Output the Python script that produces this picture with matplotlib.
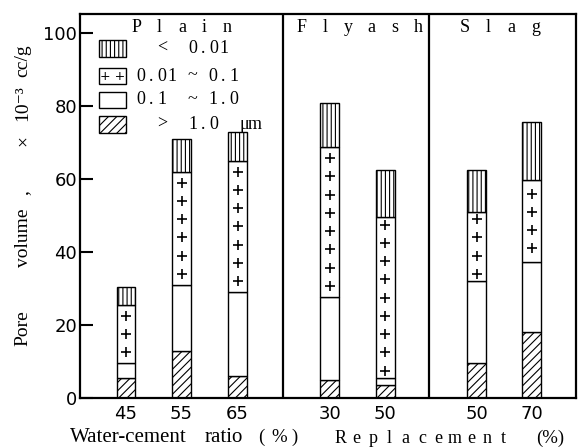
import numpy as np
import matplotlib.pyplot as plt
from matplotlib.patches import Rectangle

plt.rcParams['hatch.linewidth'] = 0.8
plt.rcParams['hatch.color'] = 'black'

# pore volume (x 10^-3 cc/g) split by pore diameter class
tick_labels = ['45', '55', '65', '30', '50', '50', '70']
over_1 = [5.5, 13.0, 6.0, 5.0, 3.5, 9.7, 18.0]              # > 1.0 um
from_01_to_1 = [4.0, 18.0, 23.0, 22.7, 2.0, 22.3, 19.3]     # 0.1 ~ 1.0
from_001_to_01 = [16.0, 31.0, 36.0, 41.0, 44.0, 19.0, 22.4]  # 0.01 ~ 0.1
under_001 = [5.0, 9.0, 8.0, 12.0, 13.0, 11.5, 16.0]         # < 0.01

x = np.array([0.83, 1.83, 2.84, 4.5, 5.5, 7.15, 8.14])
dividers = [3.66, 6.29]
width = 0.34

W, H = 581, 448
fig = plt.figure(figsize=(W / 100, H / 100), dpi=100)
ax = fig.add_axes([80 / W, 1 - 398 / H, 496 / W, 384 / H])

serif = ['Liberation Serif', 'DejaVu Serif']

b1 = np.array(over_1)
b2 = b1 + np.array(from_01_to_1)
b3 = b2 + np.array(from_001_to_01)

ax.bar(x, over_1, width, color='white', edgecolor='black', lw=1, hatch='////')
ax.bar(x, from_01_to_1, width, bottom=b1, color='white', edgecolor='black', lw=1)
ax.bar(x, from_001_to_01, width, bottom=b2, color='white', edgecolor='black', lw=1)
ax.bar(x, under_001, width, bottom=b3, color='white', edgecolor='black', lw=1, hatch='||||')

# scattered plus signs for the 0.01 ~ 0.1 class
step = 5.0
for xi, lo, seg in zip(x, b2, from_001_to_01):
    n = int(round(seg / step))
    mid = lo + seg / 2
    ys = mid + (np.arange(n) - (n - 1) / 2) * step
    ax.scatter(np.full(n, xi), ys, marker='+', s=55, color='black', lw=1.2, zorder=3)

for d in dividers:
    ax.axvline(d, color='black', lw=1.6)

ax.set_xlim(0, 8.94)
ax.set_ylim(0, 105.2)
ax.set_yticks([0, 20, 40, 60, 80, 100])
ax.set_xticks(x)
ax.set_xticklabels(tick_labels)
ax.tick_params(axis='y', direction='in', length=9, width=1.5, pad=2, labelsize=13)
ax.tick_params(axis='x', length=0, pad=5, labelsize=13)
for s in ax.spines.values():
    s.set_linewidth(1.6)


def put(px, py, s, size, rot=0):
    fig.text(px / W, 1 - py / H, s, family=serif, size=size, rotation=rot,
             ha='center', va='center')


def spaced_text(cx, cy, word, pitch, size=12, anchor='center'):
    # fixed-pitch lettering, positions in pixels from the top-left corner
    off = pitch * (len(word) - 1) / 2 if anchor == 'center' else 0
    for i, ch in enumerate(word):
        if ch != ' ':
            put(cx + i * pitch - off, cy, ch, size)


spaced_text(182, 28, 'Plain', 22.5, size=13)
spaced_text(360, 28, 'Flyash', 23.5, size=13)
spaced_text(500, 28, 'Slag', 23.5, size=13)

# legend boxes
legend_rows = [('||||', '<  0.01', 162), ('', '0.01 ~ 0.1', 141),
               ('', '0.1  ~ 1.0', 141), ('////', '>  1.0  μm', 162)]
centers = [48.5, 76, 100, 124.5]
for (hatch, label, tx), cy in zip(legend_rows, centers):
    fy = (398 - cy) / 384
    ax.add_patch(Rectangle(((99 - 80) / 496, fy - 0.022), 27 / 496, 0.044,
                           transform=ax.transAxes, facecolor='white',
                           edgecolor='black', lw=1, hatch=hatch))
    spaced_text(tx, cy, label, 10.3, size=13, anchor='left')
ax.text((112.5 - 80) / 496, (398 - 76) / 384, '+ +', transform=ax.transAxes,
        family='DejaVu Sans', size=9, va='center', ha='center')

# x titles
put(128, 437, 'Water-cement', 15)
put(224, 437, 'ratio', 15)
put(261, 437, '(', 13.5)
put(279, 437, '%', 13.5)
put(295, 437, ')', 13.5)
spaced_text(422, 438, 'Replacement', 16.3, size=13)
put(550, 438, '(%)', 13.5)

# y-axis title, one word at a time up the left side
for word, cy in [('Pore', 328), ('volume', 238), (',', 193),
                 ('×', 141), ('10⁻³', 103), ('cc/g', 61)]:
    put(23, cy, word, 14, rot=90)

fig.savefig('out.png', dpi=100)
